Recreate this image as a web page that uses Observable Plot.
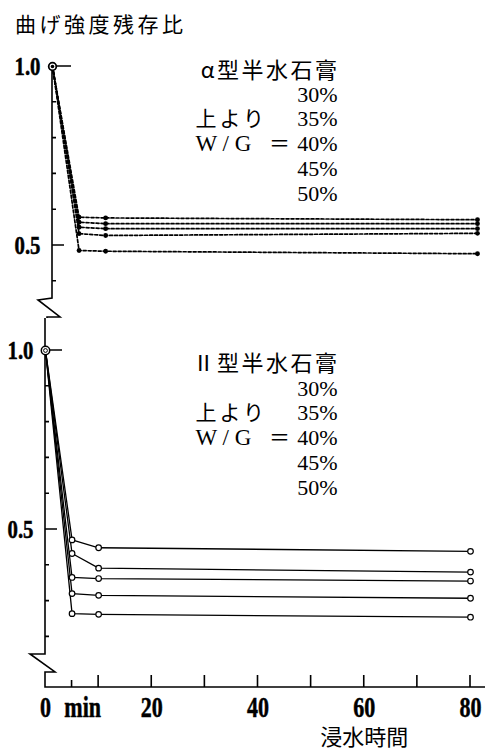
<!DOCTYPE html>
<html><head><meta charset="utf-8">
<script src="https://cdn.jsdelivr.net/npm/d3@7"></script>
<script src="https://cdn.jsdelivr.net/npm/@observablehq/plot@0.6"></script>
<style>
body{margin:0;background:#fff;}
#wrap{position:relative;width:485px;height:751px;overflow:hidden;background:#fff;}
#title{position:absolute;left:15px;top:9px;font-family:"Noto Sans CJK JP",sans-serif;font-size:21px;letter-spacing:3.5px;line-height:28px;color:#000;}
#top{position:absolute;left:0;top:40px;}
#bot{position:absolute;left:0;top:318px;}
</style></head><body>
<div id="wrap"><div id="title">曲げ強度残存比</div><div id="top"></div><div id="bot"></div></div>
<script>
// ---- data ----
const times = [0, 5, 10, 80];
const wgLabels = ["30%", "35%", "40%", "45%", "50%"];
const alpha30 = [1.0, 0.579, 0.577, 0.572];
const alpha35 = [1.0, 0.565, 0.561, 0.561];
const alpha40 = [1.0, 0.551, 0.547, 0.547];
const alpha45 = [1.0, 0.533, 0.528, 0.534];
const alpha50 = [1.0, 0.486, 0.484, 0.477];
const type2_30 = [1.0, 0.471, 0.449, 0.439];
const type2_35 = [1.0, 0.433, 0.392, 0.381];
const type2_40 = [1.0, 0.366, 0.363, 0.356];
const type2_45 = [1.0, 0.321, 0.316, 0.308];
const type2_50 = [1.0, 0.265, 0.263, 0.255];
const yMajorTicks = [0.5, 1.0];
const topMinorTicks = [0.4, 0.6, 0.7, 0.8, 0.9];
const botMinorTicks = [0.2, 0.3, 0.4, 0.6, 0.7, 0.8, 0.9];
const xTicks = [5, 10, 20, 30, 40, 50, 60, 70, 80];
const xTickLabels = [0, 20, 40, 60, 80];
const xUnit = "min";
const xTitle = "浸水時間";
const alphaTitle = "α型半水石膏";
const type2Title = "Ⅱ型半水石膏";
const orderNote = "上より";
const wgName = "W / G";

function toRows(seriesList) {
  return seriesList.flatMap((vals, s) => vals.map((v, i) => ({t: times[i], v, wg: wgLabels[s]})));
}
const alphaRows = toRows([alpha30, alpha35, alpha40, alpha45, alpha50]);
const type2Rows = toRows([type2_30, type2_35, type2_40, type2_45, type2_50]);

// ---- axis decoration (axis line, break, ticks) through scales ----
function axisDecor({minor, breakAt, xAxis, majorLen}) {
  return (index, scales, values, dim) => {
    const x = scales.x, y = scales.y;
    const g = d3.create("svg:g").attr("fill", "none").attr("stroke", "#000").attr("stroke-width", 1.6);
    const x0 = x(0), yb = y(breakAt);
    const p = d3.path();
    if (!xAxis) {
      p.moveTo(x0, y(1)); p.lineTo(x0, yb); p.lineTo(x0 - 14, yb + 2); p.lineTo(x0 + 8, yb + 19);
      p.lineTo(x0 - 5, yb + 19); p.lineTo(x0 - 5, dim.height);
    } else {
      const ya = dim.height - dim.marginBottom;
      p.moveTo(x0, 0); p.lineTo(x0, yb); p.lineTo(x0 - 15, yb); p.lineTo(x0 + 10, yb + 18);
      p.lineTo(x0, yb + 18); p.lineTo(x0, ya); p.lineTo(dim.width, ya);
      for (const t of xTicks) { p.moveTo(x(t), ya); p.lineTo(x(t), ya - (t === 5 ? 7 : 12)); }
    }
    for (const t of minor) { p.moveTo(x0, y(t)); p.lineTo(x0 + 4, y(t)); }
    p.moveTo(x0, y(0.5)); p.lineTo(x0 + 12, y(0.5));
    p.moveTo(x0, y(1)); p.lineTo(x0 + majorLen, y(1));
    g.append("path").attr("d", p.toString());
    return g.node();
  };
}

function legendMarks(title, ml, y0, first, gap) {
  const base = {frameAnchor: "top-left", lineAnchor: "middle", fill: "#000", text: d => d};
  const jp = {fontFamily: "'Noto Sans CJK JP', sans-serif", fontSize: 21};
  const serif = {fontFamily: "'Liberation Serif', serif", fontSize: 22};
  const ys = wgLabels.map((_, i) => y0 + first + i * gap);
  return [
    Plot.text([title], {...base, ...jp, fontSize: 22, textAnchor: "end", dx: 339 - ml, dy: y0}),
    ...wgLabels.map((lab, i) => Plot.text([lab], {...base, ...serif, textAnchor: "end", dx: 337 - ml, dy: ys[i]})),
    Plot.text([orderNote], {...base, ...jp, textAnchor: "start", dx: 195 - ml, dy: ys[1]}),
    Plot.text([wgName], {...base, ...serif, fontSize: 23, textAnchor: "start", dx: 195 - ml, dy: ys[2]}),
    Plot.text(["＝"], {...base, ...jp, textAnchor: "middle", dx: 279 - ml, dy: ys[2]})
  ];
}

const numFont = {fontFamily: "'Liberation Serif', serif", fontWeight: "bold", fill: "#000"};
function yLabels() {
  return Plot.text(yMajorTicks, {x: 0, y: d => d, text: d => d3.format(".1f")(d), dx: -12,
    textAnchor: "end", lineAnchor: "middle", fontSize: 26, ...numFont});
}

function origin(rows) { return rows.filter(d => d.t === 0).slice(0, 1); }

const topPlot = Plot.plot({
  width: 485, height: 278,
  marginLeft: 52, marginRight: 8, marginTop: 0, marginBottom: 0,
  x: {domain: [0, 80], axis: null},
  y: {domain: [0, 1], range: [26 + 358, 26], axis: null},
  style: {background: "transparent", overflow: "visible", color: "#000"},
  marks: [
    axisDecor({minor: topMinorTicks, breakAt: 0.352, xAxis: false, majorLen: 19}),
    yLabels(),
    Plot.line(alphaRows, {x: "t", y: "v", z: "wg", stroke: "#000", strokeWidth: 1.7, strokeDasharray: "3 2"}),
    Plot.dot(alphaRows.filter(d => d.t > 0), {x: "t", y: "v", r: 2.4, fill: "#000"}),
    Plot.dot(origin(alphaRows), {x: "t", y: "v", r: 3.8, fill: "#fff", stroke: "#000", strokeWidth: 1.8}),
    Plot.dot(origin(alphaRows), {x: "t", y: "v", r: 1.8, fill: "#000"}),
    ...legendMarks(alphaTitle, 52, 30, 24, 24.75)
  ]
});

const botPlot = Plot.plot({
  width: 485, height: 433,
  marginLeft: 45, marginRight: 15, marginTop: 0, marginBottom: 64,
  x: {domain: [0, 80], axis: null},
  y: {domain: [0, 1], range: [32 + 358, 32], axis: null},
  style: {background: "transparent", overflow: "visible", color: "#000"},
  marks: [
    axisDecor({minor: botMinorTicks, breakAt: 0.151, xAxis: true, majorLen: 17}),
    yLabels(),
    Plot.text(xTickLabels, {x: d => d, text: d => String(d), frameAnchor: "bottom", dy: 9, lineAnchor: "top",
      fontSize: 29, ...numFont}),
    Plot.text([xUnit], {x: 7, frameAnchor: "bottom", dy: 9, lineAnchor: "top", text: d => d, fontSize: 29, ...numFont}),
    Plot.text([xTitle], {x: 60, frameAnchor: "bottom", dy: 50, lineAnchor: "middle", text: d => d, fontSize: 22,
      fontFamily: "'Noto Sans CJK JP', sans-serif", fill: "#000"}),
    Plot.line(type2Rows, {x: "t", y: "v", z: "wg", stroke: "#000", strokeWidth: 1.3}),
    Plot.dot(type2Rows.filter(d => d.t > 0), {x: "t", y: "v", r: 2.8, fill: "#fff", stroke: "#000", strokeWidth: 1.2}),
    Plot.dot(origin(type2Rows), {x: "t", y: "v", r: 4.2, fill: "#fff", stroke: "#000", strokeWidth: 1.5}),
    Plot.dot(origin(type2Rows), {x: "t", y: "v", r: 1.9, fill: "none", stroke: "#000", strokeWidth: 1}),
    ...legendMarks(type2Title, 45, 45, 25, 24.8)
  ]
});

document.getElementById("top").appendChild(topPlot);
document.getElementById("bot").appendChild(botPlot);

// condense the printed numerals horizontally; widen the legend headings
const condenseMap = new Map([...xTickLabels.map(d => [String(d), 0.76]), [xUnit, 0.76],
  ...yMajorTicks.map(d => [d3.format(".1f")(d), 0.8])]);
const spacingMap = new Map([[alphaTitle, 2.5], [type2Title, 2.5], [orderNote, 3]]);
for (const svg of [topPlot, botPlot]) {
  svg.querySelectorAll("text").forEach(t => {
    const s = t.textContent;
    const k = condenseMap.get(s);
    if (k) {
      const tr = t.getAttribute("transform") || "";
      t.setAttribute("transform", tr + ` scale(${k},1)`);
      t.setAttribute("stroke", "#000");
      t.setAttribute("stroke-width", "0.5");
    }
    const ls = spacingMap.get(s);
    if (ls) { t.setAttribute("letter-spacing", ls); t.style.letterSpacing = ls + "px"; }
  });
}
</script>
</body></html>
